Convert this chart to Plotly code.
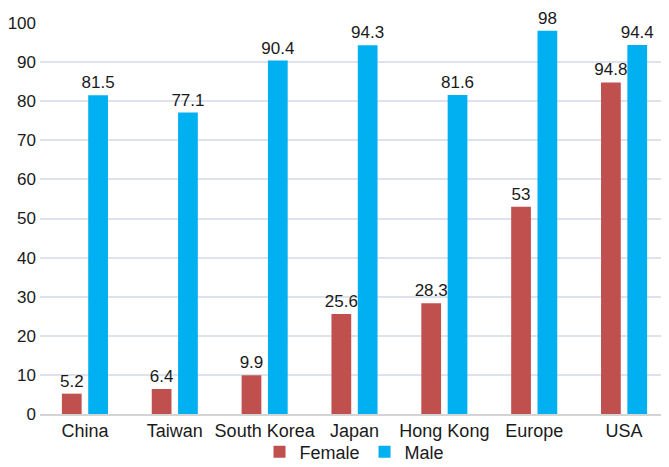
import plotly.graph_objects as go

categories = ["China", "Taiwan", "South Korea", "Japan", "Hong Kong", "Europe", "USA"]
female_values = [5.2, 6.4, 9.9, 25.6, 28.3, 53, 84.8]
female_labels = ["5.2", "6.4", "9.9", "25.6", "28.3", "53", "94.8"]
male_values = [81.5, 77.1, 90.4, 94.3, 81.6, 98, 94.4]
male_labels = ["81.5", "77.1", "90.4", "94.3", "81.6", "98", "94.4"]
y_ticks = [0, 10, 20, 30, 40, 50, 60, 70, 80, 90, 100]

FONT = "Liberation Sans, Arial, Helvetica, sans-serif"
TXT = "#1a1a1a"

fig = go.Figure()
fig.add_trace(go.Bar(
    name="Female", x=categories, y=female_values, text=female_labels,
    textposition="outside", cliponaxis=False, constraintext="none",
    textfont=dict(family=FONT, size=17, color=TXT),
    marker=dict(color="#c0504d", line=dict(width=0)),
))
fig.add_trace(go.Bar(
    name="Male", x=categories, y=male_values, text=male_labels,
    textposition="outside", cliponaxis=False, constraintext="none",
    textfont=dict(family=FONT, size=17, color=TXT),
    marker=dict(color="#00b0f0", line=dict(width=0)),
))

# page body has an 8px margin, so the figure is sized to fit the 669x467 window
fig.update_layout(
    width=661, height=459,
    margin=dict(l=32, r=0, t=15, b=53, autoexpand=False),
    paper_bgcolor="white", plot_bgcolor="white",
    barmode="group", bargap=0.414, bargroupgap=0.25,
    font=dict(family=FONT, size=17, color=TXT),
    showlegend=True,
    legend=dict(
        orientation="h", xref="paper", yref="paper",
        x=0.5, xanchor="center", y=-0.097, yanchor="middle",
        font=dict(family=FONT, size=18, color=TXT),
        itemwidth=30, tracegroupgap=0, bgcolor="rgba(0,0,0,0)",
    ),
)
fig.update_xaxes(
    showgrid=False, showline=True, linecolor="#d4d4d4", linewidth=1.5,
    ticks="", tickfont=dict(family=FONT, size=18, color=TXT),
    ticklabelstandoff=0, automargin=False,
)
fig.update_yaxes(
    range=[0, 100], tickvals=y_ticks, showgrid=True, gridcolor="#dce3ee",
    gridwidth=1.5, zeroline=False, showline=False, ticks="",
    tickfont=dict(family=FONT, size=17, color=TXT), ticklabelstandoff=3,
    automargin=False,
)

fig.write_html("out.html")
